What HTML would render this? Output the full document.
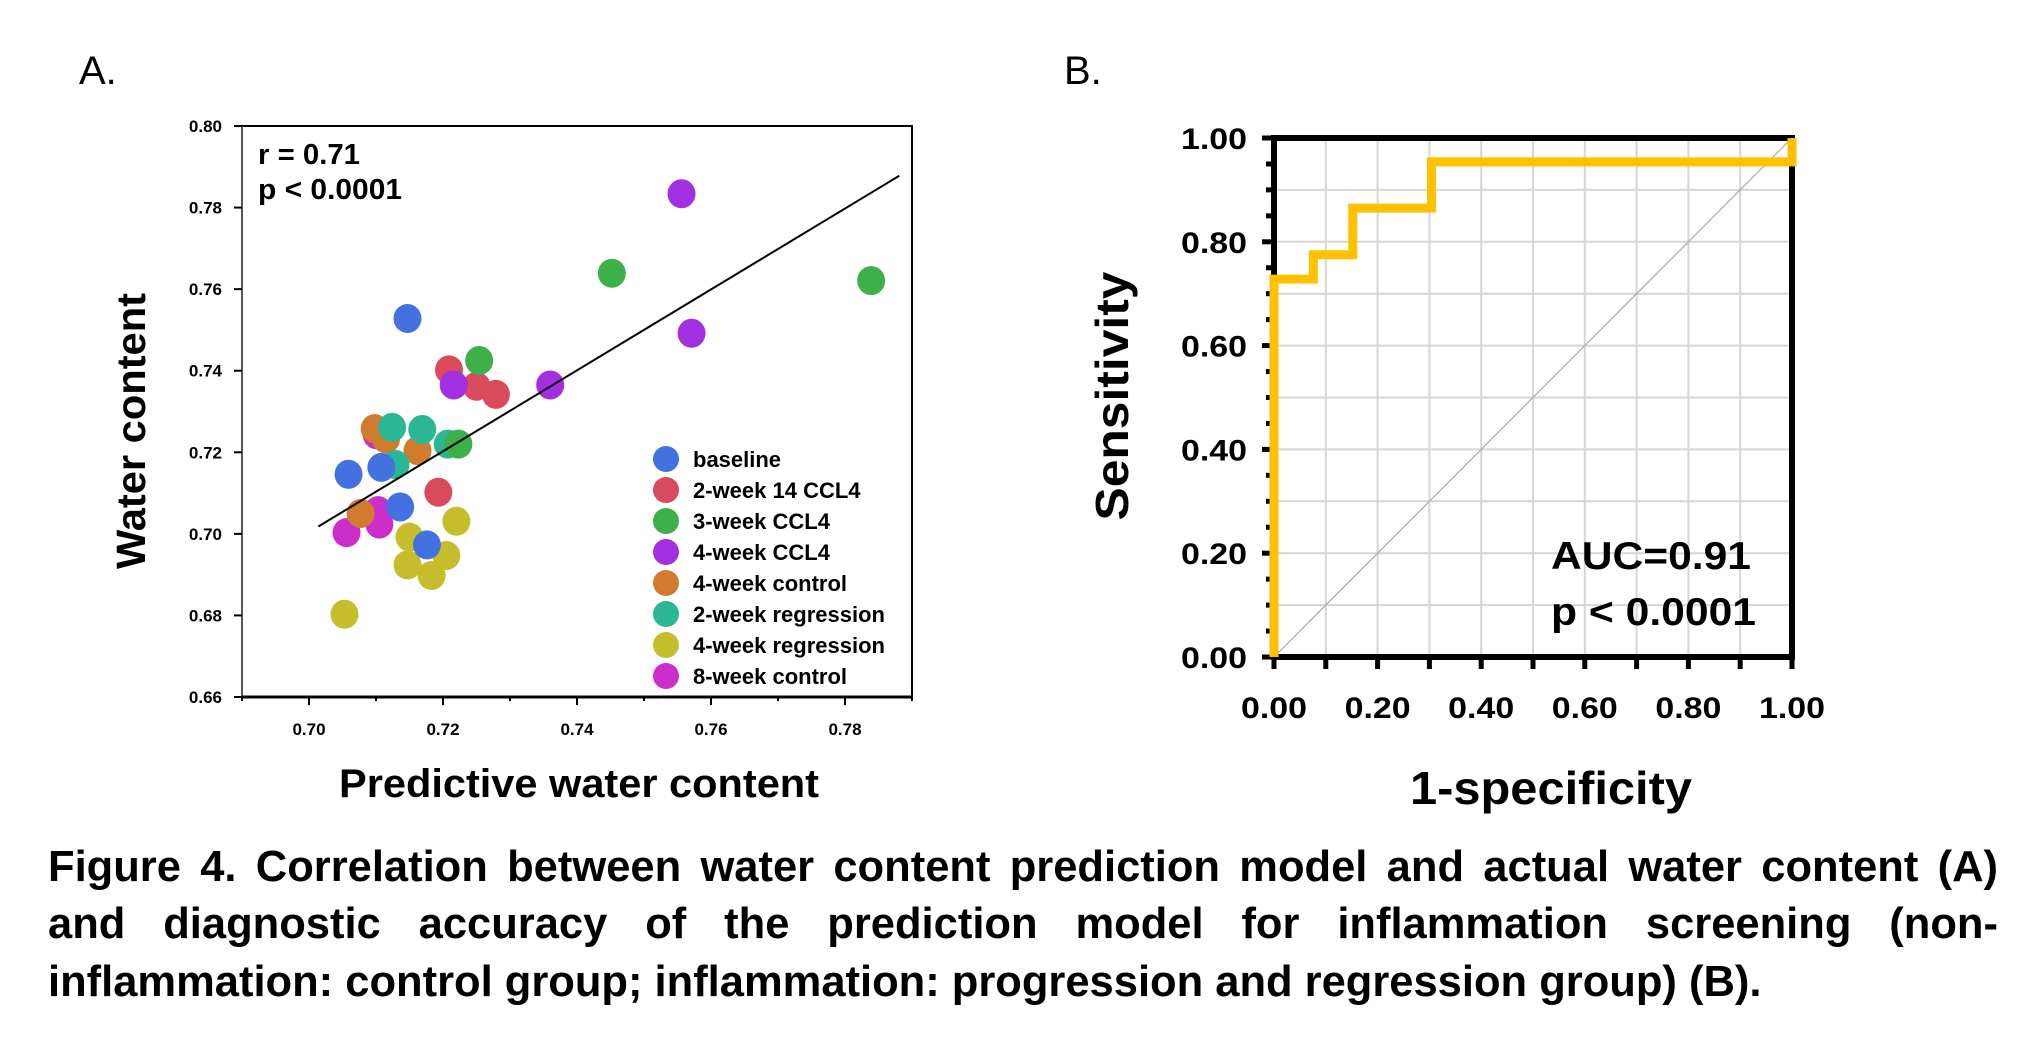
<!DOCTYPE html>
<html><head><meta charset="utf-8">
<style>
html,body{margin:0;padding:0;background:#fff;width:2042px;height:1038px;overflow:hidden}
svg{position:absolute;left:0;top:0}
.cap{position:absolute;left:48px;width:1950px;font-family:"Liberation Sans",Arial,sans-serif;font-weight:bold;font-size:43.5px;line-height:48px;color:#000;white-space:nowrap}
.j{text-align:justify;text-align-last:justify;white-space:normal}
</style></head><body>
<svg id="chart" width="2042" height="1038" xmlns="http://www.w3.org/2000/svg" font-family="Liberation Sans, Arial, sans-serif"></svg>
<div class="cap j" style="top:843px">Figure 4. Correlation between water content prediction model and actual water content (A)</div>
<div class="cap j" style="top:900px">and diagnostic accuracy of the prediction model for inflammation screening (non-</div>
<div class="cap" style="top:958px">inflammation: control group; inflammation: progression and regression group) (B).</div>
<script>
// ---- Panel A data ----
const groups = ["baseline","2-week 14 CCL4","3-week CCL4","4-week CCL4","4-week control","2-week regression","4-week regression","8-week control"];
const groupColors = ["#4372e0","#d84a5c","#3db04a","#a22fe0","#d07b2e","#2ab894","#c6bd2c","#cc2ecc"];
const baselineX=[0.7147,0.7059,0.7108,0.7136,0.7176];
const baselineY=[0.7528,0.7146,0.7163,0.7066,0.6973];
const wk2X=[0.7209,0.7250,0.7279,0.7193];
const wk2Y=[0.7402,0.7362,0.7342,0.7102];
const wk3X=[0.7452,0.7839,0.7254,0.7223];
const wk3Y=[0.7639,0.7621,0.7425,0.7220];
const wk4X=[0.7556,0.7571,0.7360,0.7216];
const wk4Y=[0.7834,0.7492,0.7365,0.7365];
const ctl4X=[0.7098,0.7115,0.7162,0.7077];
const ctl4Y=[0.7258,0.7233,0.7204,0.7050];
const reg2X=[0.7124,0.7169,0.7207,0.7129];
const reg2Y=[0.7261,0.7256,0.7220,0.7170];
const reg4X=[0.7220,0.7150,0.7205,0.7147,0.7183,0.7053];
const reg4Y=[0.7031,0.6992,0.6947,0.6924,0.6898,0.6803];
const ctl8X=[0.7101,0.7056,0.7103,0.7105];
const ctl8Y=[0.7243,0.7003,0.7057,0.7024];
const fitX=[0.7014,0.7881];
const fitY=[0.7018,0.7878];
const xTicksA=[0.70,0.72,0.74,0.76,0.78];
const yTicksA=[0.66,0.68,0.70,0.72,0.74,0.76,0.78,0.80];
// ---- Panel B data ----
const rocX=[0,0,0.076,0.076,0.152,0.152,0.304,0.304,1,1];
const rocY=[0,0.728,0.728,0.775,0.775,0.865,0.865,0.954,0.954,1];
const ticksB=[0,0.2,0.4,0.6,0.8,1.0];

const NS="http://www.w3.org/2000/svg";
const svg=document.getElementById('chart');
function mk(tag,attrs,parent){const e=document.createElementNS(NS,tag);for(const k in attrs)e.setAttribute(k,attrs[k]);(parent||svg).appendChild(e);return e;}
function txt(s,attrs,parent){const e=mk('text',attrs,parent);e.textContent=s;return e;}

const ax0=242,ax1=912,ay0=126,ay1=697;
const xA=v=>ax0+(v-0.69)/0.10*(ax1-ax0);
const yA=v=>ay1-(v-0.66)/0.14*(ay1-ay0);

const gA=mk('g',{});


let t=txt('A.',{x:79,y:84,'font-size':40});



let fr=mk('rect',{x:ax0,y:ay0,width:ax1-ax0,height:ay1-ay0,fill:'none',stroke:'#000','stroke-width':2},gA);


mk('line',{x1:ax0,y1:ay0,x2:ax0,y2:ay1,stroke:'#555','stroke-width':2},gA);
mk('line',{x1:ax0,y1:ay1,x2:ax1,y2:ay1,stroke:'#000','stroke-width':3},gA);

yTicksA.forEach(v=>{
  mk('line',{x1:ax0-8,y1:yA(v),x2:ax0,y2:yA(v),stroke:'#000','stroke-width':2},gA);
  const e=txt(v.toFixed(2),{x:222,y:yA(v)+6,'font-size':17,'font-weight':'bold','text-anchor':'end'},gA);
  
  
});
for(let v=0.69;v<=0.7901;v+=0.01){
  const major=xTicksA.some(m=>Math.abs(m-v)<1e-6);
  mk('line',{x1:xA(v),y1:ay1,x2:xA(v),y2:ay1+(major?8:4),stroke:'#000','stroke-width':2},gA);
}
xTicksA.forEach(v=>{
  const e=txt(v.toFixed(2),{x:xA(v),y:735,'font-size':17,'font-weight':'bold','text-anchor':'middle'},gA);
  
  
});
t=txt('Water content',{x:0,y:0,'font-size':41,'font-weight':'bold','text-anchor':'middle',transform:'translate(145,431) rotate(-90)',textLength:276,lengthAdjust:'spacingAndGlyphs'},gA);


t=txt('Predictive water content',{x:339,y:797,'font-size':40,'font-weight':'bold',textLength:480,lengthAdjust:'spacingAndGlyphs'},gA);


t=txt('r = 0.71',{x:258,y:164,'font-size':29,'font-weight':'bold',textLength:102,lengthAdjust:'spacingAndGlyphs'},gA);


t=txt('p < 0.0001',{x:258,y:199,'font-size':29,'font-weight':'bold',textLength:144,lengthAdjust:'spacingAndGlyphs'},gA);



const seriesX=[baselineX,wk2X,wk3X,wk4X,ctl4X,reg2X,reg4X,ctl8X];
const seriesY=[baselineY,wk2Y,wk3Y,wk4Y,ctl4Y,reg2Y,reg4Y,ctl8Y];
const order=[6,7,4,5,0,1,3,2];
order.forEach(gi=>{
  seriesX[gi].forEach((xv,i)=>{
    const c=mk('ellipse',{cx:xA(xv),cy:yA(seriesY[gi][i]),rx:14,ry:14.5,fill:groupColors[gi]},gA);
    
    
  });
});
let fl=mk('line',{x1:xA(fitX[0]),y1:yA(fitY[0]),x2:xA(fitX[1]),y2:yA(fitY[1]),stroke:'#000','stroke-width':2},gA);



groups.forEach((g,i)=>{
  const cy=459+i*31;
  const c=mk('circle',{cx:666,cy:cy,r:13,fill:groupColors[i]},gA);
  
  
  const e=txt(g,{x:693,y:cy+8,'font-size':22,'font-weight':'bold'},gA);
  
  
});

const bx0=1274,bx1=1792,by0=138,by1=657;
const xB=v=>bx0+v*(bx1-bx0);
const yB=v=>by1-v*(by1-by0);
const gB=mk('g',{});


t=txt('B.',{x:1064,y:84,'font-size':40});


for(let k=1;k<10;k++){
  mk('line',{x1:xB(k/10),y1:by0,x2:xB(k/10),y2:by1,stroke:'#d6d6d6','stroke-width':2},gB);
  mk('line',{x1:bx0,y1:yB(k/10),x2:bx1,y2:yB(k/10),stroke:'#d6d6d6','stroke-width':2},gB);
}
let dg=mk('line',{x1:xB(0),y1:yB(0),x2:xB(1),y2:yB(1),stroke:'#aaa','stroke-width':1.2},gB);


let fb=mk('rect',{x:bx0,y:by0,width:bx1-bx0,height:by1-by0,fill:'none',stroke:'#000','stroke-width':6},gB);


for(let k=0;k<=20;k++){
  const v=k/20, major=k%4===0;
  mk('line',{x1:bx0-(major?12:8),y1:yB(v),x2:bx0,y2:yB(v),stroke:'#000','stroke-width':5},gB);
}
for(let k=0;k<=10;k++){
  mk('line',{x1:xB(k/10),y1:by1,x2:xB(k/10),y2:by1+12,stroke:'#000','stroke-width':5},gB);
}
ticksB.forEach(v=>{
  let e=txt(v.toFixed(2),{x:1247,y:yB(v)+11,'font-size':30,'font-weight':'bold','text-anchor':'end',textLength:66,lengthAdjust:'spacingAndGlyphs'},gB);
  
  
  e=txt(v.toFixed(2),{x:xB(v),y:718,'font-size':30,'font-weight':'bold','text-anchor':'middle',textLength:66,lengthAdjust:'spacingAndGlyphs'},gB);
  
  
});
let pts=rocX.map((x,i)=>xB(x)+','+yB(rocY[i])).join(' ');
let roc=mk('polyline',{points:pts,fill:'none',stroke:'#ffc000','stroke-width':9,'stroke-linejoin':'miter'},gB);


t=txt('Sensitivity',{x:0,y:0,'font-size':46,'font-weight':'bold','text-anchor':'middle',transform:'translate(1128,396) rotate(-90)',textLength:249,lengthAdjust:'spacingAndGlyphs'},gB);


t=txt('1-specificity',{x:1410,y:804,'font-size':46,'font-weight':'bold',textLength:282,lengthAdjust:'spacingAndGlyphs'},gB);


t=txt('AUC=0.91',{x:1551,y:569,'font-size':39,'font-weight':'bold',textLength:200,lengthAdjust:'spacingAndGlyphs'},gB);


t=txt('p < 0.0001',{x:1551,y:625,'font-size':39,'font-weight':'bold',textLength:205,lengthAdjust:'spacingAndGlyphs'},gB);


</script>
</body></html>
